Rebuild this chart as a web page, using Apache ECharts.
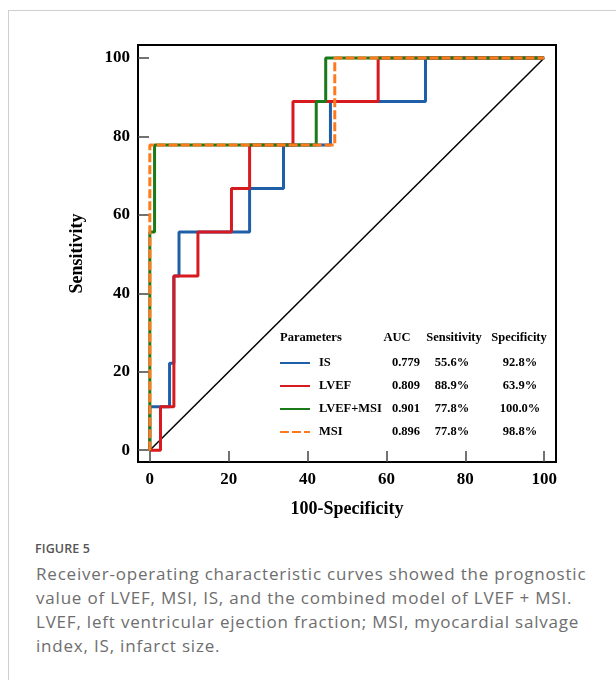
<!DOCTYPE html>
<html>
<head>
<meta charset="utf-8">
<script src="https://cdn.jsdelivr.net/npm/echarts@6/dist/echarts.min.js"></script>
<style>
  html, body { margin:0; padding:0; background:#fff; }
  #wrap { position:relative; width:616px; height:680px; overflow:hidden; }
  #card { position:absolute; left:8px; top:10px; width:640px; height:700px; border-left:1px solid #cfcfcf; border-top:1px solid #cfcfcf; }
  #chart { position:absolute; left:0; top:0; width:616px; height:530px; }
  #fig { position:absolute; left:35px; top:540px; font-family:"Open Sans", sans-serif; font-size:12.5px; font-weight:600; color:#555; letter-spacing:0.1px; }
  #cap { position:absolute; left:36px; top:562px; width:558px; font-family:"Open Sans", sans-serif; font-size:17px; letter-spacing:0.8px; line-height:24px; color:#6e6e6e; }
</style>
</head>
<body>
<div id="wrap">
  <div id="card"></div>
  <div id="chart"></div>
  <div id="fig">FIGURE 5</div>
  <div id="cap">Receiver-operating characteristic curves showed the prognostic value of LVEF, MSI, IS, and the combined model of LVEF + MSI. LVEF, left ventricular ejection fraction; MSI, myocardial salvage index, IS, infarct size.</div>
</div>
<script>
// ROC step curves: x = 100-Specificity, y = Sensitivity
const isX    = [0, 0, 5.0, 5.0, 6.1, 6.1, 7.4, 7.4, 25.3, 25.3, 33.9, 33.9, 45.8, 45.8, 69.9, 69.9, 100];
const isY    = [0, 11.1, 11.1, 22.2, 22.2, 44.4, 44.4, 55.6, 55.6, 66.7, 66.7, 77.8, 77.8, 88.9, 88.9, 100, 100];
const lvefX  = [0, 2.7, 2.7, 6.1, 6.1, 12.2, 12.2, 20.7, 20.7, 25.3, 25.3, 36.3, 36.3, 57.9, 57.9, 100];
const lvefY  = [0, 0, 11.1, 11.1, 44.4, 44.4, 55.6, 55.6, 66.7, 66.7, 77.8, 77.8, 88.9, 88.9, 100, 100];
const combX  = [0, 0, 1.2, 1.2, 42.2, 42.2, 44.6, 44.6, 100];
const combY  = [0, 55.6, 55.6, 77.8, 77.8, 88.9, 88.9, 100, 100];
const msiX   = [0, 0, 46.9, 46.9, 100];
const msiY   = [0, 77.8, 77.8, 100, 100];
const refX   = [0, 100];
const refY   = [0, 100];

const names     = ['IS', 'LVEF', 'LVEF+MSI', 'MSI'];
const aucs      = ['0.779', '0.809', '0.901', '0.896'];
const sens      = ['55.6%', '88.9%', '77.8%', '77.8%'];
const specs     = ['92.8%', '63.9%', '100.0%', '98.8%'];
const headers   = ['Parameters', 'AUC', 'Sensitivity', 'Specificity'];
const tickVals  = [0, 20, 40, 60, 80, 100];

const colors = ['#1f5fa8', '#d71920', '#1a7a1a', '#ff7a1c'];
const serif = '"Liberation Serif", "Times New Roman", serif';

function pts(xs, ys) { return xs.map((x, i) => [x, ys[i]]); }

const chart = echarts.init(document.getElementById('chart'));

const axisCommon = {
  type: 'value', min: -3, max: 103,
  splitLine: { show: false },
  axisLine: { show: true, onZero: false, lineStyle: { color: '#000', width: 2 } },
  axisTick: { show: true, inside: true, length: 11, customValues: tickVals, lineStyle: { color: '#444', width: 1.5 } },
  axisLabel: { customValues: tickVals, color: '#000', fontFamily: serif, fontWeight: 'bold', fontSize: 17 },
  nameTextStyle: { color: '#000', fontFamily: serif, fontWeight: 'bold', fontSize: 18 }
};

const rowY = [363, 386, 409, 432];
const graphics = [];
const hdrX = [280, 397, 454, 519];
headers.forEach((h, i) => {
  graphics.push({ type: 'text', x: hdrX[i], y: 338, style: { text: h, fill: '#000', font: 'bold 12.5px ' + serif, textAlign: i === 0 ? 'left' : 'center', textVerticalAlign: 'middle' } });
});
const colCenters = [406, 452, 520];
[aucs, sens, specs].forEach((col, c) => {
  col.forEach((v, r) => {
    graphics.push({ type: 'text', x: colCenters[c], y: rowY[r], style: { text: v, fill: '#000', font: 'bold 12.5px ' + serif, textAlign: 'center', textVerticalAlign: 'middle' } });
  });
});

const seriesData = [pts(isX, isY), pts(lvefX, lvefY), pts(combX, combY), pts(msiX, msiY)];

chart.setOption({
  animation: false,
  grid: { left: 138, right: 60, top: 45, bottom: 68, show: true, borderColor: '#000', borderWidth: 2, containLabel: false },
  xAxis: Object.assign({}, axisCommon, { name: '100-Specificity', nameLocation: 'middle', nameGap: 38,
    axisLabel: Object.assign({}, axisCommon.axisLabel, { margin: 9 }) }),
  yAxis: Object.assign({}, axisCommon, { max: 103.3, name: 'Sensitivity', nameLocation: 'middle', nameGap: 52,
    axisLabel: Object.assign({}, axisCommon.axisLabel, { margin: 8 }) }),
  legend: {
    data: names, orient: 'vertical', left: 279, top: 356, itemGap: 9, padding: 0,
    itemWidth: 30, itemHeight: 8,
    itemStyle: { opacity: 0 },
    textStyle: { color: '#000', fontFamily: serif, fontWeight: 'bold', fontSize: 12.5, lineHeight: 14, padding: [0, 0, 0, 4] }
  },
  graphic: graphics,
  series: [
    { name: 'ref', type: 'line', data: pts(refX, refY), symbol: 'none', lineStyle: { color: '#000', width: 1.5 }, z: 1 },
    ...names.map((n, i) => ({
      name: n, type: 'line', data: seriesData[i], symbol: 'none', showSymbol: false,
      itemStyle: { color: colors[i] },
      lineStyle: { color: colors[i], width: 3, type: i === 3 ? [9, 3] : 'solid' },
      z: 2 + i
    }))
  ]
});
</script>
</body>
</html>
